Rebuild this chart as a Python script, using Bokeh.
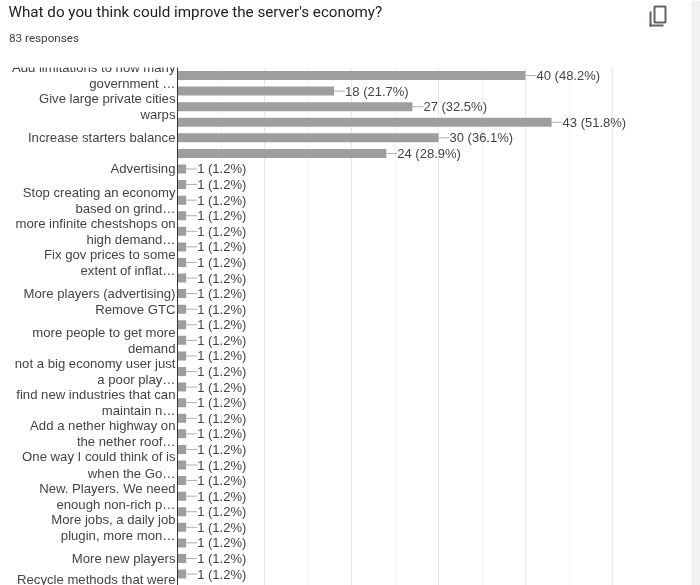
from bokeh.plotting import figure
from bokeh.embed import file_html
from bokeh.resources import INLINE
from bokeh.models import Range1d, FixedTicker, Label, BoxAnnotation, ColumnDataSource
from bokeh.core.properties import value

title = "What do you think could improve the server's economy?"
subtitle = "83 responses"
values = [40, 18, 27, 43, 30, 24] + [1] * 28
percents = [48.2, 21.7, 32.5, 51.8, 36.1, 28.9] + [1.2] * 28
tick_rows = [0, 2, 4, 6, 8, 10, 12, 14, 15, 17, 19, 21, 23, 25, 27, 29, 31]
tick_texts = [
    "Add limitations to how many\ngovernment …",
    "Give large private cities\nwarps",
    "Increase starters balance",
    "Advertising",
    "Stop creating an economy\nbased on grind…",
    "more infinite chestshops on\nhigh demand…",
    "Fix gov prices to some\nextent of inflat…",
    "More players (advertising)",
    "Remove GTC",
    "more people to get more\ndemand",
    "not a big economy user just\na poor play…",
    "find new industries that can\nmaintain n…",
    "Add a nether highway on\nthe nether roof…",
    "One way I could think of is\nwhen the Go…",
    "New. Players. We need\nenough non-rich p…",
    "More jobs, a daily job\nplugin, more mon…",
    "More new players",
]
last_label = "Recycle methods that were"
x_major = [0, 10, 20, 30, 40, 50]
x_minor = [5, 15, 25, 35, 45]

W, H = 700, 585
ZX, ZY = 177, 75      # pixel of value 0 and of row 0
TOP = 67              # pixel where the scrolled chart starts
PXU, PXR = 8.7, 15.58 # pixels per value, pixels per row

rows = list(range(len(values)))
src = ColumnDataSource(dict(
    y=rows, v=values,
    lab=[f"{v} ({q}%)" for v, q in zip(values, percents)],
))

y_top = (TOP - ZY) / PXR
y_end = (H - ZY) / PXR
p = figure(frame_width=W, frame_height=H, output_backend="svg", toolbar_location=None,
           x_range=Range1d(-ZX / PXU, (W - ZX) / PXU),
           y_range=Range1d(y_end, -ZY / PXR),
           min_border_left=0, min_border_top=0, min_border_right=0, min_border_bottom=0,
           x_axis_location=None, outline_line_color=None,
           styles={"position": "fixed", "left": "0px", "top": "0px"})

p.xgrid.ticker = FixedTicker(ticks=x_major, minor_ticks=x_minor)
p.xgrid.grid_line_color = "#e8e8e8"
p.xgrid.minor_grid_line_color = "#f3f3f3"
p.ygrid.visible = False

ax = p.yaxis[0]
ax.fixed_location = 0
ax.bounds = (y_top, y_end)
ax.ticker = FixedTicker(ticks=tick_rows)
ax.major_label_overrides = dict(zip(tick_rows, tick_texts))
ax.major_tick_line_color = None
ax.major_tick_out = 0
ax.minor_tick_line_color = None
ax.minor_tick_out = 0
ax.axis_line_color = "#333333"
ax.axis_line_width = 1
ax.major_label_text_font = "Liberation Sans"
ax.major_label_text_font_size = "13.15px"
ax.major_label_text_color = "#444444"
ax.major_label_text_line_height = 1.07
ax.major_label_standoff = 2

def box(l, r, t, b, fill=None, line=None, lw=2, level="overlay"):
    p.add_layout(BoxAnnotation(left=l, right=r, top=t, bottom=b, left_units="canvas", right_units="canvas",
                               top_units="canvas", bottom_units="canvas", fill_color=fill, fill_alpha=1 if fill else 0,
                               line_color=line, line_alpha=1 if line else 0, line_width=lw, level=level))

# the grid starts where the chart starts
box(ZX - 2, 691, 0, TOP, fill="white", level="glyph")

p.hbar(y="y", left=0, right="v", height=9 / PXR, source=src, color="#9e9e9e", line_color=None)
p.ray(x="v", y="y", length=11, length_units="screen", angle=0, source=src, line_color="#b0b0b0", line_width=1)
p.text(x="v", y="y", text="lab", x_offset=11, source=src, text_baseline="middle",
       text_font=value("Liberation Sans"), text_font_size="13px", text_color="#444444")

# clips the first category label where the scrolled chart starts
box(0, ZX - 1, 50, TOP, fill="white")

p.add_layout(Label(x=8, y=11, x_units="canvas", y_units="canvas", text=title, text_baseline="middle",
                   text_font="Roboto", text_font_size="15.2px", text_color="#212121"))
p.add_layout(Label(x=8.5, y=37, x_units="canvas", y_units="canvas", text=subtitle, text_baseline="middle",
                   text_font="Roboto", text_font_size="11.7px", text_color="#424242"))
p.add_layout(Label(x=175, y=579, x_units="canvas", y_units="canvas", text=last_label, text_baseline="middle",
                   text_align="right", text_font="Liberation Sans", text_font_size="13.15px",
                   text_color="#444444"))

# copy icon and the page strip at the right
icon = "#5f6368"
box(654, 665, 6, 22, line=icon)
box(649, 651, 11, 26, fill=icon)
box(649, 663, 24, 26, fill=icon)
box(691, 700, 0, 585, fill="#f1f1f1")

open("out.html", "w").write(file_html(p, INLINE))
